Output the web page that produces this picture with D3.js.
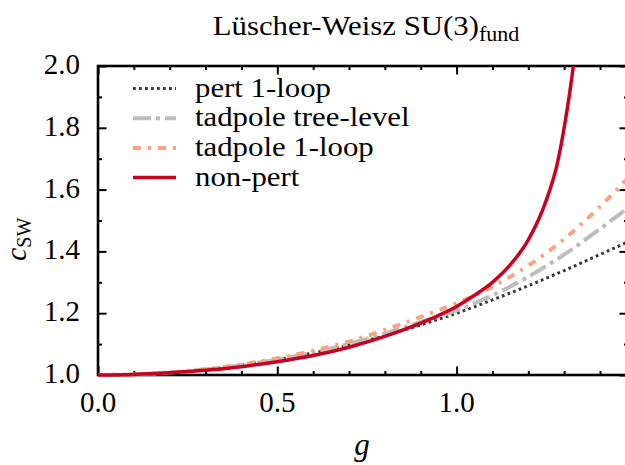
<!DOCTYPE html>
<html>
<head>
<meta charset="utf-8">
<script src="https://cdn.jsdelivr.net/npm/d3@7"></script>
<style>
  html, body { margin: 0; padding: 0; background: #fff; }
  svg { display: block; }
</style>
</head>
<body>
<svg id="chart" width="625" height="465" font-family="'Liberation Serif', 'Times New Roman', Tinos, 'Noto Serif', 'DejaVu Serif', serif"></svg>
<script>
// Clover coefficient c_SW versus bare coupling g, Lüscher-Weisz gauge action, SU(3) fundamental
const gGrid          = [0, 0.1, 0.2, 0.3, 0.4, 0.5, 0.6, 0.7, 0.8, 0.9, 1.0, 1.1, 1.2, 1.3, 1.4, 1.48];
const pertOneLoop    = [1, 1.002, 1.008, 1.018, 1.032, 1.050, 1.071, 1.097, 1.127, 1.162, 1.200, 1.243, 1.289, 1.338, 1.390, 1.432];
const tadpoleTree    = [1, 1.002, 1.008, 1.018, 1.032, 1.050, 1.073, 1.101, 1.134, 1.172, 1.209, 1.258, 1.318, 1.390, 1.473, 1.543];
const tadpoleOneLoop = [1, 1.002, 1.008, 1.019, 1.034, 1.054, 1.079, 1.108, 1.146, 1.188, 1.232, 1.286, 1.354, 1.440, 1.545, 1.640];

const nonPertG = [0, 0.1, 0.2, 0.3, 0.4, 0.5, 0.6, 0.7, 0.8, 0.9, 0.95, 1.0, 1.05, 1.1, 1.15, 1.2, 1.25, 1.28, 1.3, 1.315, 1.33, 1.34];
const nonPertC = [1, 1.0017, 1.007, 1.015, 1.027, 1.043, 1.063, 1.090, 1.125, 1.168, 1.193, 1.222, 1.258, 1.300, 1.357, 1.437, 1.565, 1.680, 1.800, 1.910, 2.040, 2.140];

const xMajorTicks = [0.0, 0.5, 1.0];
const xMinorTicks = [0.1, 0.2, 0.3, 0.4, 0.6, 0.7, 0.8, 0.9, 1.1, 1.2, 1.3, 1.4];
const yMajorTicks = [1.0, 1.2, 1.4, 1.6, 1.8, 2.0];
const yMinorTicks = [1.1, 1.3, 1.5, 1.7, 1.9];

const seriesNames = ["pert 1-loop", "tadpole tree-level", "tadpole 1-loop", "non-pert"];

const svg = d3.select("#chart");
const plotLeft = 98, plotRight = 628, plotTop = 66, plotBottom = 375;

const x = d3.scaleLinear().domain([0, 1.478]).range([plotLeft, plotRight]);
const y = d3.scaleLinear().domain([1, 2]).range([plotBottom, plotTop]);

const styles = [
  { color: "#3a3a3a", width: 3,   dash: "2.8,3.2" },
  { color: "#bdbdbd", width: 4,   dash: "18,5,4,5" },
  { color: "#f4a582", width: 4,   dash: "8,7,3,7" },
  { color: "#ca0020", width: 3.5, dash: null }
];

// clip region for the curves
svg.append("defs").append("clipPath").attr("id", "plotClip")
  .append("rect")
  .attr("x", plotLeft).attr("y", plotTop)
  .attr("width", plotRight - plotLeft).attr("height", plotBottom - plotTop + 3);

// ticks on all four sides, pointing inward
function drawTicks(axisGen, transform, values, size) {
  const g = svg.append("g").attr("transform", transform)
    .call(axisGen.tickValues(values).tickSize(size).tickFormat(""));
  g.attr("font-family", null);
  g.select(".domain").remove();
  g.selectAll(".tick line").attr("stroke", "#000").attr("stroke-width", 2);
  return g;
}
const majorLen = 8.5, minorLen = 4;
drawTicks(d3.axisBottom(x), `translate(0,${plotBottom})`, xMajorTicks, -majorLen);
drawTicks(d3.axisBottom(x), `translate(0,${plotBottom})`, xMinorTicks, -minorLen);
drawTicks(d3.axisTop(x), `translate(0,${plotTop})`, xMajorTicks, -majorLen);
drawTicks(d3.axisTop(x), `translate(0,${plotTop})`, xMinorTicks, -minorLen);
drawTicks(d3.axisLeft(y), `translate(${plotLeft},0)`, yMajorTicks, -majorLen);
drawTicks(d3.axisLeft(y), `translate(${plotLeft},0)`, yMinorTicks, -minorLen);
drawTicks(d3.axisRight(y), `translate(${plotRight},0)`, yMajorTicks, -majorLen);
drawTicks(d3.axisRight(y), `translate(${plotRight},0)`, yMinorTicks, -minorLen);

// frame
svg.append("rect")
  .attr("x", plotLeft).attr("y", plotTop)
  .attr("width", plotRight - plotLeft).attr("height", plotBottom - plotTop)
  .attr("fill", "none").attr("stroke", "#000").attr("stroke-width", 2.6);

// tick labels
const fmt = d3.format(".1f");
svg.append("g").selectAll("text").data(xMajorTicks).join("text")
  .attr("x", d => x(d)).attr("y", plotBottom + 37)
  .attr("text-anchor", "middle").attr("font-size", 29)
  .text(fmt);
svg.append("g").selectAll("text").data(yMajorTicks).join("text")
  .attr("x", 80).attr("y", d => y(d) + 8)
  .attr("text-anchor", "end").attr("font-size", 29)
  .text(fmt);

// curves
const line = d3.line().x(d => x(d[0])).y(d => y(d[1])).curve(d3.curveMonotoneX);
const seriesData = [
  gGrid.map((g, i) => [g, pertOneLoop[i]]),
  gGrid.map((g, i) => [g, tadpoleTree[i]]),
  gGrid.map((g, i) => [g, tadpoleOneLoop[i]]),
  nonPertG.map((g, i) => [g, nonPertC[i]])
];
const curves = svg.append("g").attr("clip-path", "url(#plotClip)");
seriesData.forEach((data, i) => {
  curves.append("path")
    .attr("d", line(data))
    .attr("fill", "none")
    .attr("stroke", styles[i].color)
    .attr("stroke-width", styles[i].width)
    .attr("stroke-dasharray", styles[i].dash)
    .attr("stroke-linejoin", "round");
});

// legend (text slightly widened for a roomier serif look)
const legendRowsY = [88.5, 118.2, 147.9, 177.6];
const legend = svg.append("g");
seriesNames.forEach((name, i) => {
  legend.append("line")
    .attr("x1", 133).attr("x2", 176)
    .attr("y1", legendRowsY[i]).attr("y2", legendRowsY[i])
    .attr("stroke", styles[i].color)
    .attr("stroke-width", styles[i].width)
    .attr("stroke-dasharray", styles[i].dash);
  legend.append("text")
    .attr("transform", `translate(195,${legendRowsY[i] + 8}) scale(1.1,1)`)
    .attr("font-size", 28)
    .text(name);
});

// title
const title = svg.append("text")
  .attr("transform", "translate(366,35) scale(1.1,1)")
  .attr("text-anchor", "middle").attr("font-size", 28);
title.append("tspan").text("Lüscher-Weisz SU(3)");
title.append("tspan").attr("font-size", 20).attr("dy", 6).text("fund");

// axis labels
svg.append("text")
  .attr("x", 362).attr("y", 455)
  .attr("text-anchor", "middle").attr("font-size", 31)
  .attr("font-style", "italic").text("g");

const yLabel = svg.append("text")
  .attr("transform", "translate(26,261) rotate(-90)")
  .attr("font-size", 27);
yLabel.append("tspan").attr("font-style", "italic").attr("font-size", 30).text("c");
yLabel.append("tspan").attr("font-size", 20).attr("dy", 5).text("SW");
</script>
</body>
</html>
